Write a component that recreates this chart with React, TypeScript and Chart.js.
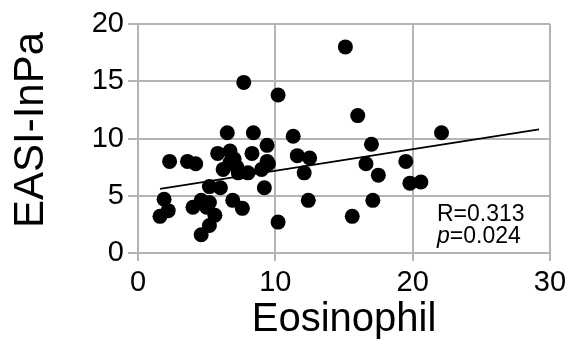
import React, { useEffect, useRef } from "react";
import { Chart, registerables } from "chart.js";

Chart.register(...registerables);

const eosinophil = [
  15.1, 7.7, 10.2, 16.0, 11.3, 22.1, 6.5, 8.4, 17.0, 9.4,
  2.3, 3.6, 4.2, 5.8, 6.7, 8.3, 9.4, 6.2, 7.3, 8.0,
  9.0, 6.7, 5.2, 6.0, 9.2, 1.9, 1.6, 2.2, 4.0, 4.6,
  5.2, 5.6, 5.2, 4.6, 6.9, 7.6, 10.2, 11.6, 12.5, 12.1,
  12.4, 15.6, 16.6, 17.5, 17.1, 19.5, 19.8, 20.6, 7.2, 5.0,
  7.0, 9.5,
];
const easiInPa = [
  18.0, 14.9, 13.8, 12.0, 10.2, 10.5, 10.5, 10.5, 9.5, 9.4,
  8.0, 8.0, 7.8, 8.7, 8.9, 8.7, 8.0, 7.3, 7.0, 7.0,
  7.3, 7.9, 5.8, 5.7, 5.7, 4.7, 3.2, 3.7, 4.0, 4.6,
  4.4, 3.3, 2.4, 1.6, 4.6, 3.9, 2.7, 8.5, 8.3, 7.0,
  4.6, 3.2, 7.8, 6.8, 4.6, 8.0, 6.1, 6.2, 7.5, 4.0,
  8.2, 7.8,
];
const trendSlope = 0.188;
const trendIntercept = 5.3;
const trendFrom = 1.6;
const trendTo = 29.2;
const statLines = ["R=0.313", "p=0.024"];
const xTitle = "Eosinophil";
const yTitle = "EASI-InPa";

const GRID = "#b4b4b4";
const FONT = "'Liberation Sans', Arial, sans-serif";

const textPlugin = {
  id: "texts",
  afterDraw(chart: any) {
    const { ctx, chartArea } = chart;
    ctx.save();
    ctx.fillStyle = "#000";
    // y-axis title
    ctx.save();
    ctx.translate(43, 130);
    ctx.rotate(-Math.PI / 2);
    ctx.textAlign = "center";
    ctx.textBaseline = "alphabetic";
    ctx.font = `42px ${FONT}`;
    ctx.fillText(yTitle, 0, 0);
    ctx.restore();
    // stats
    ctx.textBaseline = "alphabetic";
    ctx.textAlign = "left";
    const x0 = chartArea.right - 113;
    ctx.font = `23px ${FONT}`;
    ctx.fillText(statLines[0], x0, chartArea.bottom - 32);
    const eq = statLines[1];
    ctx.font = `italic 23px ${FONT}`;
    ctx.fillText(eq[0], x0, chartArea.bottom - 10);
    const w = ctx.measureText(eq[0]).width;
    ctx.font = `23px ${FONT}`;
    ctx.fillText(eq.slice(1), x0 + w, chartArea.bottom - 10);
    ctx.restore();
  },
};

export default function App() {
  const ref = useRef<HTMLCanvasElement>(null);
  useEffect(() => {
    if (!ref.current) return;
    const pts = eosinophil.map((x, i) => ({ x, y: easiInPa[i] }));
    const line = [trendFrom, trendTo].map((x) => ({ x, y: trendSlope * x + trendIntercept }));
    const chart = new Chart(ref.current, {
      type: "scatter",
      data: {
        datasets: [
          {
            data: pts,
            backgroundColor: "#000",
            borderColor: "#000",
            pointRadius: 7.5,
            pointHoverRadius: 7.5,
            borderWidth: 0,
            order: 2,
          },
          {
            type: "line",
            data: line,
            borderColor: "#000",
            borderWidth: 1.8,
            pointRadius: 0,
            fill: false,
            order: 1,
          } as any,
        ],
      },
      options: {
        animation: false,
        responsive: false,
        maintainAspectRatio: false,
        layout: { padding: { top: 24, right: 32, left: 0, bottom: 0 } },
        plugins: { legend: { display: false }, tooltip: { enabled: false } },
        scales: {
          x: {
            type: "linear",
            min: 0,
            max: 30,
            ticks: { stepSize: 10, color: "#000", font: { family: FONT, size: 29 }, padding: 5, maxRotation: 0 },
            grid: { color: GRID, lineWidth: 2, tickLength: 8, drawOnChartArea: true },
            border: { color: GRID, width: 2 },
            title: { display: true, text: xTitle, color: "#000", font: { family: FONT, size: 40 }, padding: { top: 0, bottom: 1 } },
            afterFit(scale: any) { scale.height = 92; },
          },
          y: {
            type: "linear",
            min: 0,
            max: 20,
            ticks: { stepSize: 5, color: "#000", font: { family: FONT, size: 29 }, padding: 4 },
            grid: { color: GRID, lineWidth: 2, tickLength: 10 },
            border: { color: GRID, width: 2 },
            title: { display: false },
            afterFit(scale: any) { scale.width = 138; },
          },
        },
      },
      plugins: [textPlugin],
    });
    return () => chart.destroy();
  }, []);
  return (
    <div style={{ position: "absolute", left: 0, top: 0, width: 582, height: 345, background: "#fff" }}>
      <canvas ref={ref} width={582} height={345} style={{ width: 582, height: 345 }} />
    </div>
  );
}
